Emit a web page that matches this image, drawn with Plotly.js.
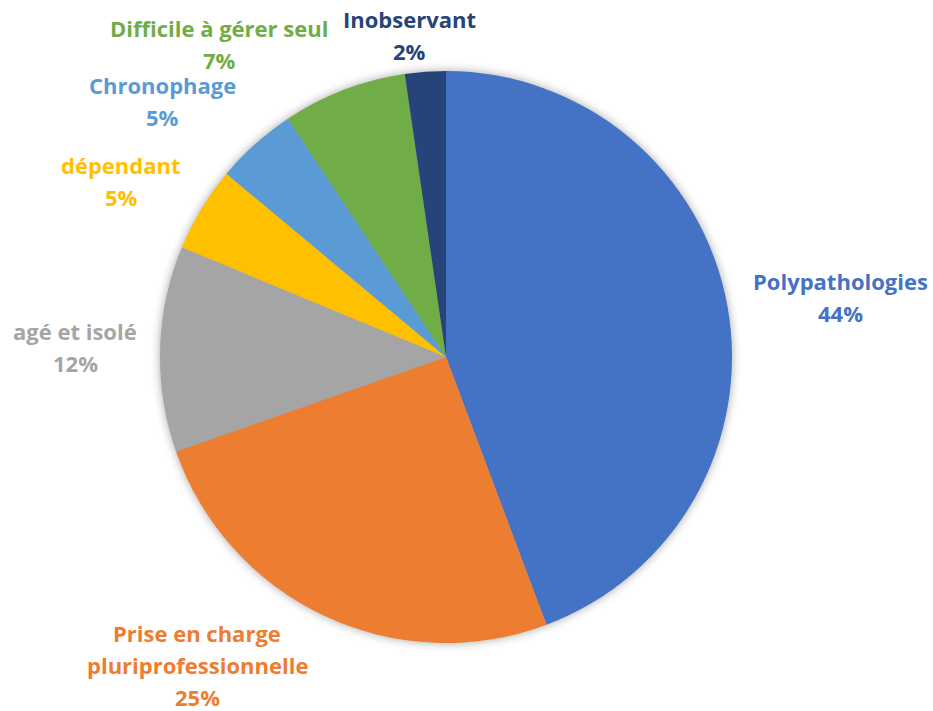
<!DOCTYPE html>
<html>
<head>
<meta charset="utf-8">
<script src="https://cdn.plot.ly/plotly-3.0.1.min.js"></script>
<style>
html,body{margin:0;padding:0;background:#fff;}
#chart{width:933px;height:711px;}
.pielayer .trace{filter: drop-shadow(0px 0px 5px rgba(0,0,0,0.35));}
</style>
</head>
<body>
<div id="chart"></div>
<script>
// Data
const categories = ["Polypathologies", "Prise en charge<br>pluriprofessionnelle", "agé et isolé", "dépendant", "Chronophage", "Difficile à gérer seul", "Inobservant"];
const values = [44.2, 25.3, 11.6, 4.8, 4.6, 7.0, 2.3];
const colors = ["#4472C4", "#ED7D31", "#A5A5A5", "#FFC000", "#5B9BD5", "#70AD47", "#264478"];

// Label positions (paper px centres), style only
const labelPos = [[840, 297], [197, 665], [75, 347], [121, 181], [162, 101], [219, 44], [409, 35]];
const lineGap = 32;

const W = 933, H = 711;
const total = values.reduce((a, b) => a + b, 0);

const annotations = [];
categories.forEach((c, i) => {
  const lines = c.split('<br>').concat([Math.round(values[i] / total * 100) + '%']);
  const n = lines.length;
  lines.forEach((t, k) => {
    const py = labelPos[i][1] + (k - (n - 1) / 2) * lineGap;
    annotations.push({
      xref: 'paper', yref: 'paper',
      x: labelPos[i][0] / W, y: 1 - py / H,
      xanchor: 'center', yanchor: 'middle',
      showarrow: false, align: 'center', borderpad: 0,
      text: '<b>' + t + '</b>',
      font: {family: '"Open Sans", Lato, sans-serif', size: 22, color: colors[i]}
    });
  });
});

const cx = 446, cy = 357, r = 286;
const trace = {
  type: 'pie',
  labels: categories,
  values: values,
  sort: false,
  direction: 'clockwise',
  rotation: 0,
  textinfo: 'none',
  hoverinfo: 'label+percent',
  marker: {colors: colors, line: {width: 0}},
  domain: {x: [(cx - r) / W, (cx + r) / W], y: [1 - (cy + r) / H, 1 - (cy - r) / H]}
};

Plotly.newPlot('chart', [trace], {
  width: W, height: H,
  margin: {l: 0, r: 0, t: 0, b: 0},
  showlegend: false,
  paper_bgcolor: '#ffffff',
  annotations: annotations
}, {displayModeBar: false, staticPlot: true});
</script>
</body>
</html>
